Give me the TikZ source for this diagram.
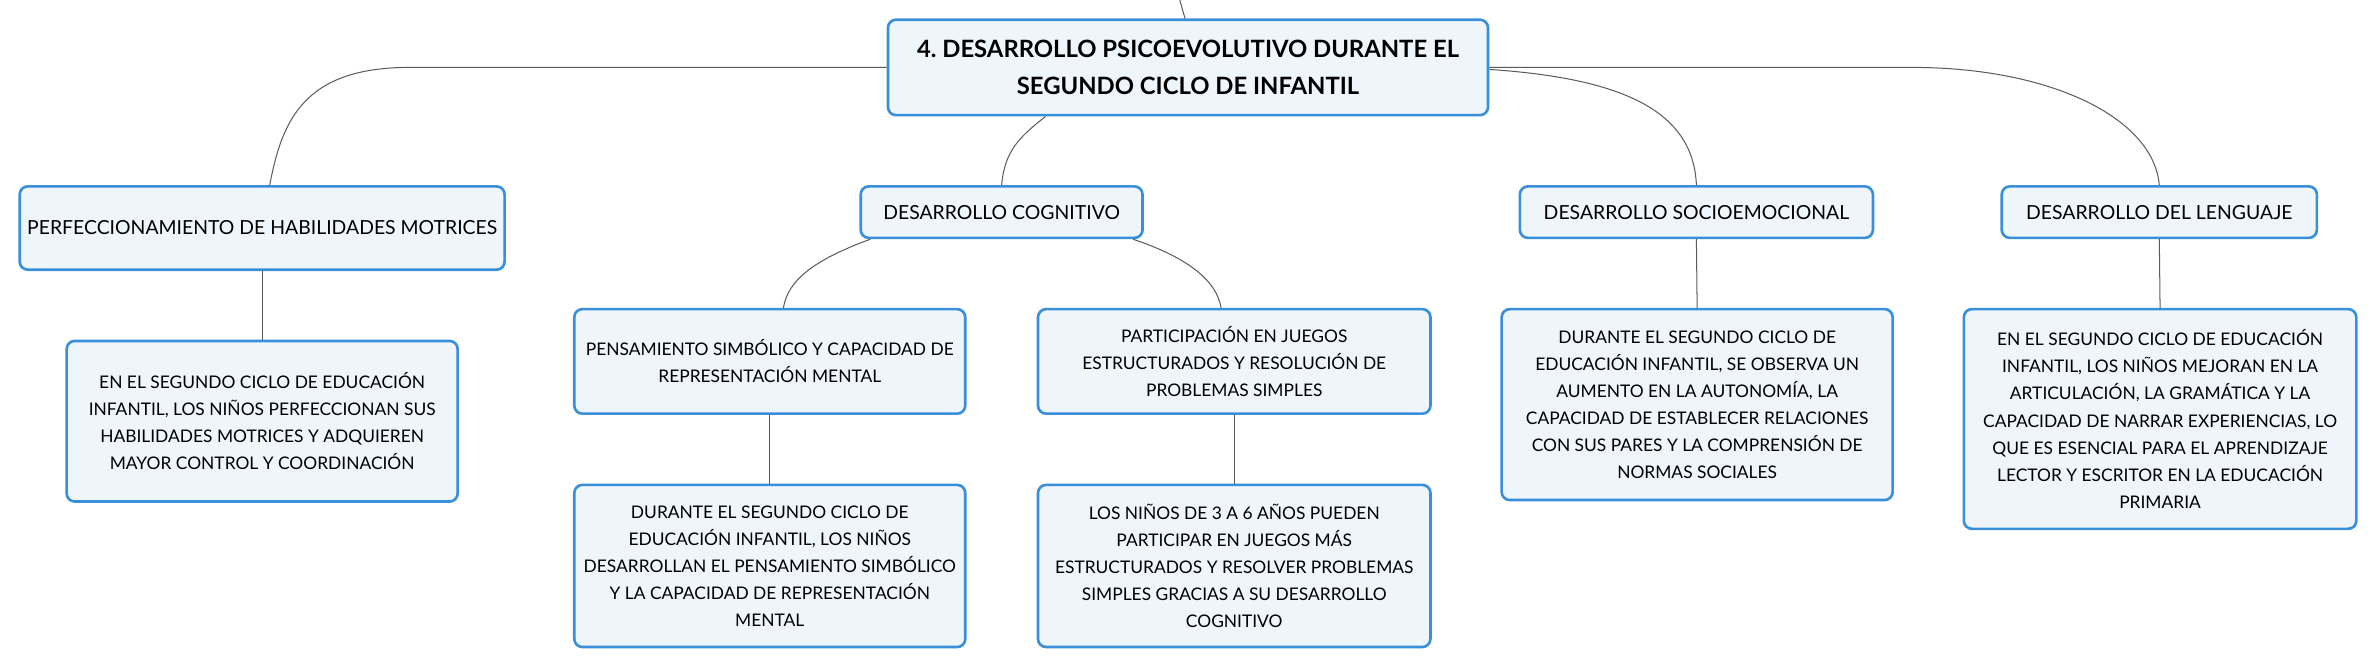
\documentclass[tikz,border=0pt]{standalone}
\usepackage{fontspec}
\setmainfont{Lato}
\definecolor{boxline}{HTML}{3A8FDA}
\definecolor{boxfill}{HTML}{EEF6FC}
\definecolor{linkgray}{HTML}{5A5A5A}
\tikzset{
  topic/.style={draw=boxline, fill=boxfill, line width=1.3pt, rounded corners=4pt,
    align=center, inner sep=2pt, font=\fontsize{9.6}{13.4}\selectfont},
  detail/.style={topic, font=\fontsize{8.6}{13.4}\selectfont},
  title/.style={topic, font=\bfseries\fontsize{11.8}{18.5}\selectfont},
  link/.style={draw=linkgray, line width=0.5pt}
}
\frenchspacing
\begin{document}
\begin{tikzpicture}[x=0.75pt,y=-0.75pt]
  \useasboundingbox (0,0) rectangle (1568,441);
  \node[title, minimum width=297pt, minimum height=47.25pt] (main) at (784,44.5)
    {4. DESARROLLO PSICOEVOLUTIVO DURANTE EL\\SEGUNDO CICLO DE INFANTIL};
  \coordinate (up) at (778,-2);

  \node[topic, minimum width=240pt, minimum height=41.25pt] (motor) at (173,150.5)
    {PERFECCIONAMIENTO DE HABILIDADES MOTRICES};
  \node[topic, minimum width=139.5pt, minimum height=25.5pt] (cog) at (661,140)
    {DESARROLLO COGNITIVO};
  \node[topic, minimum width=174.75pt, minimum height=25.5pt] (socio) at (1119.5,140)
    {DESARROLLO SOCIOEMOCIONAL};
  \node[topic, minimum width=156pt, minimum height=25.5pt] (leng) at (1425,140)
    {DESARROLLO DEL LENGUAJE};

  \node[detail, minimum width=193.5pt, minimum height=79.5pt] (motorD) at (173,278)
    {EN EL SEGUNDO CICLO DE EDUCACIÓN\\INFANTIL, LOS NIÑOS PERFECCIONAN SUS\\HABILIDADES MOTRICES Y ADQUIEREN\\MAYOR CONTROL Y COORDINACIÓN};
  \node[detail, minimum width=193.5pt, minimum height=51.75pt] (pens) at (508,238.5)
    {PENSAMIENTO SIMBÓLICO Y CAPACIDAD DE\\REPRESENTACIÓN MENTAL};
  \node[detail, minimum width=194.25pt, minimum height=51.75pt] (part) at (814.5,238.5)
    {PARTICIPACIÓN EN JUEGOS\\ESTRUCTURADOS Y RESOLUCIÓN DE\\PROBLEMAS SIMPLES};
  \node[detail, minimum width=193.5pt, minimum height=94.5pt] (socioD) at (1120,267)
    {DURANTE EL SEGUNDO CICLO DE\\EDUCACIÓN INFANTIL, SE OBSERVA UN\\AUMENTO EN LA AUTONOMÍA, LA\\CAPACIDAD DE ESTABLECER RELACIONES\\CON SUS PARES Y LA COMPRENSIÓN DE\\NORMAS SOCIALES};
  \node[detail, minimum width=194.25pt, minimum height=108.75pt] (lengD) at (1425.5,276.5)
    {EN EL SEGUNDO CICLO DE EDUCACIÓN\\INFANTIL, LOS NIÑOS MEJORAN EN LA\\ARTICULACIÓN, LA GRAMÁTICA Y LA\\CAPACIDAD DE NARRAR EXPERIENCIAS, LO\\QUE ES ESENCIAL PARA EL APRENDIZAJE\\LECTOR Y ESCRITOR EN LA EDUCACIÓN\\PRIMARIA};

  \node[detail, minimum width=193.5pt, minimum height=80.25pt] (pensD) at (508,373.5)
    {DURANTE EL SEGUNDO CICLO DE\\EDUCACIÓN INFANTIL, LOS NIÑOS\\DESARROLLAN EL PENSAMIENTO SIMBÓLICO\\Y LA CAPACIDAD DE REPRESENTACIÓN\\MENTAL};
  \node[detail, minimum width=194.25pt, minimum height=80.25pt] (partD) at (814.5,373.5)
    {LOS NIÑOS DE 3 A 6 AÑOS PUEDEN\\PARTICIPAR EN JUEGOS MÁS\\ESTRUCTURADOS Y RESOLVER PROBLEMAS\\SIMPLES GRACIAS A SU DESARROLLO\\COGNITIVO};

  \draw[link] ([xshift=-1.5pt]main.north) -- (up);
  \draw[link] (main.west) -- (270,44.5) .. controls +(-70,0) and +(8,-42) .. ([xshift=3.75pt]motor.north);
  \draw[link] ([xshift=-70.5pt]main.south) .. controls +(-18,14) and +(2,-22) .. (cog.north);
  \draw[link] ([yshift=-1pt]main.east) .. controls +(90,6) and +(-2,-48) .. (socio.north);
  \draw[link] (main.east) -- (1262,44.5) .. controls +(90,0) and +(-4,-45) .. (leng.north);
  \draw[link] ([xshift=-65pt]cog.south) .. controls +(-38,14) and +(3,-18) .. ([xshift=6.75pt]pens.north);
  \draw[link] ([xshift=65pt]cog.south) .. controls +(36,12) and +(-3,-18) .. ([xshift=-6.5pt]part.north);
  \draw[link] (motor.south) -- (motorD.north);
  \draw[link] (pens.south) -- (pensD.north);
  \draw[link] (part.south) -- (partD.north);
  \draw[link] (socio.south) -- (socioD.north);
  \draw[link] (leng.south) -- (lengD.north);
\end{tikzpicture}
\end{document}
